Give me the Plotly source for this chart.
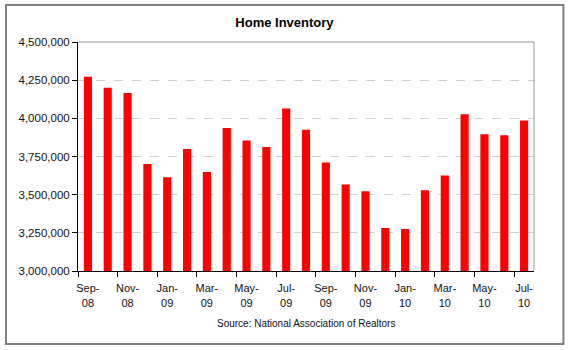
import plotly.graph_objects as go

months = ["Sep-08", "Oct-08", "Nov-08", "Dec-08", "Jan-09", "Feb-09", "Mar-09", "Apr-09",
          "May-09", "Jun-09", "Jul-09", "Aug-09", "Sep-09", "Oct-09", "Nov-09", "Dec-09",
          "Jan-10", "Feb-10", "Mar-10", "Apr-10", "May-10", "Jun-10", "Jul-10"]
inventory = [4273000, 4201000, 4166000, 3701000, 3614000, 3799000, 3649000, 3937000,
             3854000, 3812000, 4064000, 3926000, 3710000, 3566000, 3522000, 3282000,
             3275000, 3529000, 3625000, 4026000, 3896000, 3889000, 3985000]
y_ticks = [3000000, 3250000, 3500000, 3750000, 4000000, 4250000, 4500000]

idx = list(range(len(months)))
label_idx = idx[::2]
month_text = [months[i].split("-")[0] + "-" for i in label_idx]
year_text = [months[i].split("-")[1] for i in label_idx]
tick_bounds = [i - 0.5 for i in label_idx]

font = "Liberation Sans, Arial, sans-serif"
xr = [-0.5, len(months) - 0.5]

fig = go.Figure()
fig.add_trace(go.Bar(x=idx, y=inventory, width=0.41,
                     marker=dict(color="#FF0000", line=dict(width=0))))
# invisible traces to activate the overlay axes (tick marks, year line)
fig.add_trace(go.Scatter(x=[idx[0], idx[-1]], y=[y_ticks[0], y_ticks[0]], xaxis="x2",
                         mode="markers", marker=dict(opacity=0), hoverinfo="skip"))
fig.add_trace(go.Scatter(x=[idx[0], idx[-1]], y=[y_ticks[0], y_ticks[0]], xaxis="x3",
                         mode="markers", marker=dict(opacity=0), hoverinfo="skip"))

fig.update_layout(
    width=570, height=350,
    margin=dict(l=78, r=36, t=42, b=79),
    paper_bgcolor="white", plot_bgcolor="white",
    showlegend=False,
    title=dict(text="<b>Home Inventory</b>", x=0.499, xanchor="center",
               y=0.937, yanchor="middle",
               font=dict(family=font, size=13, color="black")),
    xaxis=dict(range=xr, tickmode="array", tickvals=label_idx, ticktext=month_text,
               ticks="", showgrid=False, ticklabelstandoff=7,
               showline=True, linecolor="black", linewidth=1,
               tickfont=dict(family=font, size=11, color="#111111"), zeroline=False),
    xaxis2=dict(range=xr, overlaying="x", side="bottom",
                tickmode="array", tickvals=tick_bounds, ticktext=[""] * len(tick_bounds),
                ticks="outside", ticklen=5, tickcolor="black", showgrid=False,
                showline=False, zeroline=False),
    xaxis3=dict(range=xr, overlaying="x", side="bottom", tickmode="array",
                tickvals=label_idx, ticktext=year_text, ticks="", showgrid=False,
                ticklabelstandoff=24, showline=False, zeroline=False,
                tickfont=dict(family=font, size=11, color="#111111")),
    yaxis=dict(range=[y_ticks[0], y_ticks[-1]], tickmode="array", tickvals=y_ticks,
               tickformat=",d", ticks="outside", ticklen=5, tickcolor="black",
               showline=True, linecolor="black", linewidth=1,
               showgrid=True, gridcolor="#CFCFCF", griddash="dash", gridwidth=1,
               tickfont=dict(family=font, size=11.5, color="#111111"), zeroline=False),
    shapes=[
        dict(type="line", xref="paper", yref="paper", x0=0, x1=1, y0=1, y1=1,
             line=dict(color="#999999", width=1)),
        dict(type="line", xref="paper", yref="paper", x0=1, x1=1, y0=0, y1=1,
             line=dict(color="#999999", width=1)),
        dict(type="rect", xref="paper", yref="paper", x0=-0.158, x1=1.0645,
             y0=-0.3188, y1=1.1616, line=dict(color="#808080", width=2)),
    ],
    annotations=[
        dict(text="Source: National Association of Realtors", xref="paper", yref="paper",
             x=0.5, y=-0.231, xanchor="center", yanchor="middle", showarrow=False,
             font=dict(family=font, size=10, color="#111111")),
    ],
)

fig.write_html("out.html")
